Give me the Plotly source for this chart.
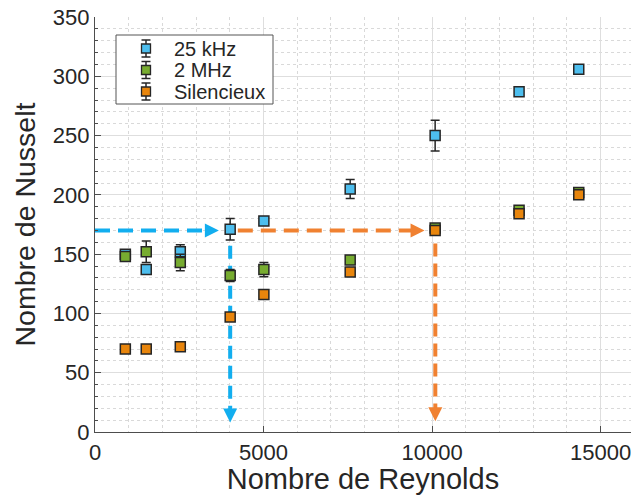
import plotly.graph_objects as go

# Reynolds number for each measurement point
reynolds = [900, 1520, 2530, 4010, 5010, 7570, 10090, 12580, 14350]

# Nusselt number and uncertainty for each acoustic condition
nu_25khz = [150, 137, 152, 171, 178, 205, 250, 287, 306]
err_25khz = [2, 2, 6, 9, 3, 8, 13, 3, 3]
nu_2mhz = [148, 152, 143, 132, 137, 145, 172, 187, 202]
err_2mhz = [4, 9, 7, 5, 6, 3, 2, 3, 3]
nu_silent = [70, 70, 72, 97, 116, 135, 170, 184, 200]
err_silent = [2, 2, 3, 3, 2, 2, 2, 2, 2]

series_names = ["25 kHz", "2 MHz", "Silencieux"]
series_colors = ["#4DBEEE", "#77AC30", "#E8850C"]

# Guide arrows: same Nusselt (170) reached at two Reynolds numbers
blue_h_x = [0, 3450]
blue_h_y = [170, 170]
blue_h_tip = (3674, 170)
blue_v_x = [4010, 4010]
blue_v_y = [157, 14]
blue_v_tip = (4010, 8)
orange_h_x = [4236, 9550]
orange_h_y = [170, 170]
orange_h_tip = (9777, 170)
orange_v_x = [10095, 10095]
orange_v_y = [159, 15]
orange_v_tip = (10095, 9)

arrow_blue = "#12AEEF"
arrow_orange = "#F08131"

FONT = "Liberation Sans, Arial, Helvetica, sans-serif"
INK = "#262626"

# plot area in pixels (used to place the legend box in paper units)
L, R, T, B = 95, 0, 17, 63
W, H = 631, 495
PW, PH = W - L - R, H - T - B


def px_x(p):
    return (p - L) / PW


def px_y(p):
    return (H - B - p) / PH


fig = go.Figure()

# dashed guide lines (drawn below the data)
for xs, ys, col, dash in [
    (blue_h_x, blue_h_y, arrow_blue, "15px,8px"),
    (blue_v_x, blue_v_y, arrow_blue, "13px,7px"),
    (orange_h_x, orange_h_y, arrow_orange, "15px,8px"),
    (orange_v_x, orange_v_y, arrow_orange, "13px,7px"),
]:
    fig.add_trace(go.Scatter(x=xs, y=ys, mode="lines",
                             line=dict(color=col, width=4, dash=dash),
                             showlegend=False, hoverinfo="skip"))

for tip, sym, col in [
    (blue_h_tip, "arrow-right", arrow_blue),
    (blue_v_tip, "arrow-down", arrow_blue),
    (orange_h_tip, "arrow-right", arrow_orange),
    (orange_v_tip, "arrow-down", arrow_orange),
]:
    fig.add_trace(go.Scatter(x=[tip[0]], y=[tip[1]], mode="markers",
                             marker=dict(symbol=sym, size=14, color=col,
                                         line=dict(width=0)),
                             showlegend=False, hoverinfo="skip"))

for name, ys, errs, col in zip(series_names,
                               [nu_25khz, nu_2mhz, nu_silent],
                               [err_25khz, err_2mhz, err_silent],
                               series_colors):
    fig.add_trace(go.Scatter(
        x=reynolds, y=ys, mode="markers", name=name, showlegend=False,
        marker=dict(symbol="square", size=10, color=col,
                    line=dict(color=INK, width=1.5)),
        error_y=dict(type="data", array=errs, visible=True,
                     color=INK, thickness=1.5, width=4.5),
    ))

# legend box: frame, error-bar glyph with square marker, label
shapes = [dict(type="rect", xref="paper", yref="paper",
               x0=px_x(116), x1=px_x(273), y0=px_y(104), y1=px_y(35),
               line=dict(color="#555555", width=1), fillcolor="white",
               layer="above")]
annotations = []
row_y = [48.5, 70, 91.5]
kx = 146
for name, col, ry in zip(series_names, series_colors, row_y):
    shapes.append(dict(type="line", xref="paper", yref="paper",
                       x0=px_x(kx), x1=px_x(kx),
                       y0=px_y(ry - 8.5), y1=px_y(ry + 8.5),
                       line=dict(color=INK, width=1.5), layer="above"))
    for cy in (ry - 8.5, ry + 8.5):
        shapes.append(dict(type="line", xref="paper", yref="paper",
                           x0=px_x(kx - 4.5), x1=px_x(kx + 4.5),
                           y0=px_y(cy), y1=px_y(cy),
                           line=dict(color=INK, width=1.5), layer="above"))
    shapes.append(dict(type="rect", xref="paper", yref="paper",
                       x0=px_x(kx - 4.5), x1=px_x(kx + 4.5),
                       y0=px_y(ry + 4.5), y1=px_y(ry - 4.5),
                       fillcolor=col, line=dict(color=INK, width=1.3),
                       layer="above"))
    annotations.append(dict(text=name, xref="paper", yref="paper",
                            x=px_x(172), y=px_y(ry), xanchor="left",
                            yanchor="middle", showarrow=False,
                            font=dict(family=FONT, size=20, color=INK)))

axis_common = dict(
    showline=True, linecolor="#4d4d4d", linewidth=1.2,
    ticks="inside", tickcolor="#4d4d4d", ticklen=6, tickwidth=1,
    tickfont=dict(family=FONT, size=22, color=INK),
    showgrid=True, gridcolor="#dedede", gridwidth=1.3,
    zeroline=False, mirror=False, ticklabeloverflow="allow",
)

fig.update_xaxes(
    range=[0, 15900], tickvals=[0, 5000, 10000, 15000],
    ticktext=["0", "5000", "10000", "15000"],
    minor=dict(dtick=1000, showgrid=True, gridcolor="#d9d9d9",
               griddash="dot", gridwidth=1, ticks=""),
    title=dict(text="Nombre de Reynolds",
               font=dict(family=FONT, size=29, color=INK),
               standoff=5),
    **axis_common,
)
fig.update_yaxes(
    range=[0, 350], dtick=50,
    minor=dict(dtick=10, showgrid=True, gridcolor="#d9d9d9",
               griddash="dot", gridwidth=1, ticks="inside",
               ticklen=3, tickcolor="#4d4d4d"),
    title=dict(text="Nombre de Nusselt",
               font=dict(family=FONT, size=28.5, color=INK),
               standoff=8),
    **axis_common,
)

fig.update_layout(
    width=W, height=H,
    margin=dict(l=L, r=R, t=T, b=B),
    paper_bgcolor="white", plot_bgcolor="white",
    font=dict(family=FONT, color=INK),
    shapes=shapes, annotations=annotations,
    showlegend=False,
)

fig.write_html("out.html")
